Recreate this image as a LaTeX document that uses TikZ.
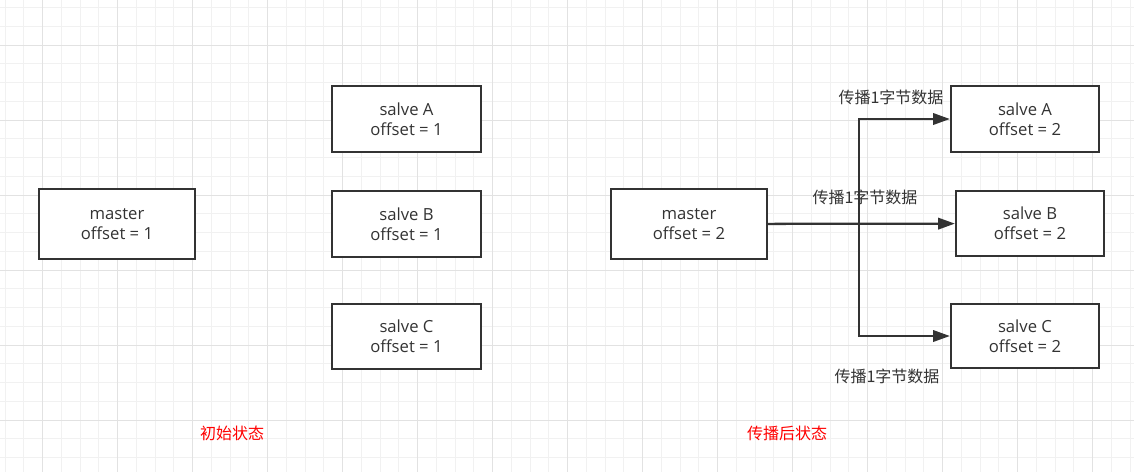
\documentclass[tikz,border=0pt]{standalone}
\usepackage{fontspec}
\setmainfont{Open Sans}
\newfontfamily\cjk{Noto Sans CJK SC}
\usetikzlibrary{arrows.meta, positioning}
\definecolor{linegray}{HTML}{333333}
\definecolor{gridminor}{HTML}{F1F1F1}
\definecolor{gridmajor}{HTML}{E2E2E2}

\begin{document}
\begin{tikzpicture}[x=0.75pt, y=-0.75pt,
		  % Define the style of the background grid
		  minorgrid/.style={draw=gridminor, line width=0.75pt},
		  majorgrid/.style={draw=gridmajor, line width=0.75pt},
		  % Define the style of the master and slave boxes
		  server/.style={rectangle, draw=linegray, line width=1.7pt, fill=white, inner sep=0pt, align=center, text=linegray, font=\fontsize{12.5}{15}\selectfont},
		  % Define the style of the arrows
		  arrow/.style={-{Triangle[length=12.5pt, width=8.5pt]}, draw=linegray, line width=1.7pt},
		  % Define the style of the arrow labels
		  sendlabel/.style={text=linegray, font=\cjk\fontsize{12}{14}\selectfont},
		  % Define the style of the red captions
		  caption/.style={text=red, font=\cjk\fontsize{12}{14}\selectfont}
		  ]

		  % Background and grid
		  \fill[white] (0,0) rectangle (1134,472);
		  \useasboundingbox (0,0) rectangle (1134,472);
		  \foreach \i in {0,...,60} {
		    \draw[minorgrid] ({5.2+18.75*\i},0) -- ++(0,472);
		  }
		  \foreach \j in {0,...,24} {
		    \draw[minorgrid] (0,{7.5+18.75*\j}) -- ++(1134,0);
		  }
		  \foreach \i in {0,...,14} {
		    \draw[majorgrid] ({42.7+75*\i},0) -- ++(0,472);
		  }
		  \foreach \j in {0,...,5} {
		    \draw[majorgrid] (0,{45+75*\j}) -- ++(1134,0);
		  }

		  % Initial state
		  \node[server, minimum width=156*0.75pt, minimum height=70*0.75pt] (master1) at (117,224) {master\\offset = 1};
		  \foreach \n/\y/\h in {A/119/66, B/224/66, C/336.5/65} {
		    \node[server, minimum width=149*0.75pt, minimum height=\h*0.75pt] (salve\n1) at (406.5,\y) {salve \n\\offset = 1};
		  }
		  \node[caption] (initcap) at (232,433) {初始状态};

		  % State after propagation
		  \node[server, minimum width=156*0.75pt, minimum height=70*0.75pt] (master2) at (689,224) {master\\offset = 2};
		  \foreach \n/\x/\y/\h in {A/1025/119/66, B/1030/223.5/65, C/1025/336/64} {
		    \node[server, minimum width=148*0.75pt, minimum height=\h*0.75pt] (salve\n2) at (\x,\y) {salve \n\\offset = 2};
		  }
		  \node[caption] (propcap) at (787,433) {传播后状态};

		  % Connect the nodes
		  \coordinate (split) at (859,224);
		  \draw[arrow] (master2) -- (salveB2);
		  \draw[arrow] (split) |- (salveA2);
		  \draw[arrow] (split) |- (salveC2);
		  \node[sendlabel] (sendA) at (891,97) {传播1字节数据};
		  \node[sendlabel] (sendB) at (865,197) {传播1字节数据};
		  \node[sendlabel] (sendC) at (887,376) {传播1字节数据};
    \end{tikzpicture}
\end{document}
